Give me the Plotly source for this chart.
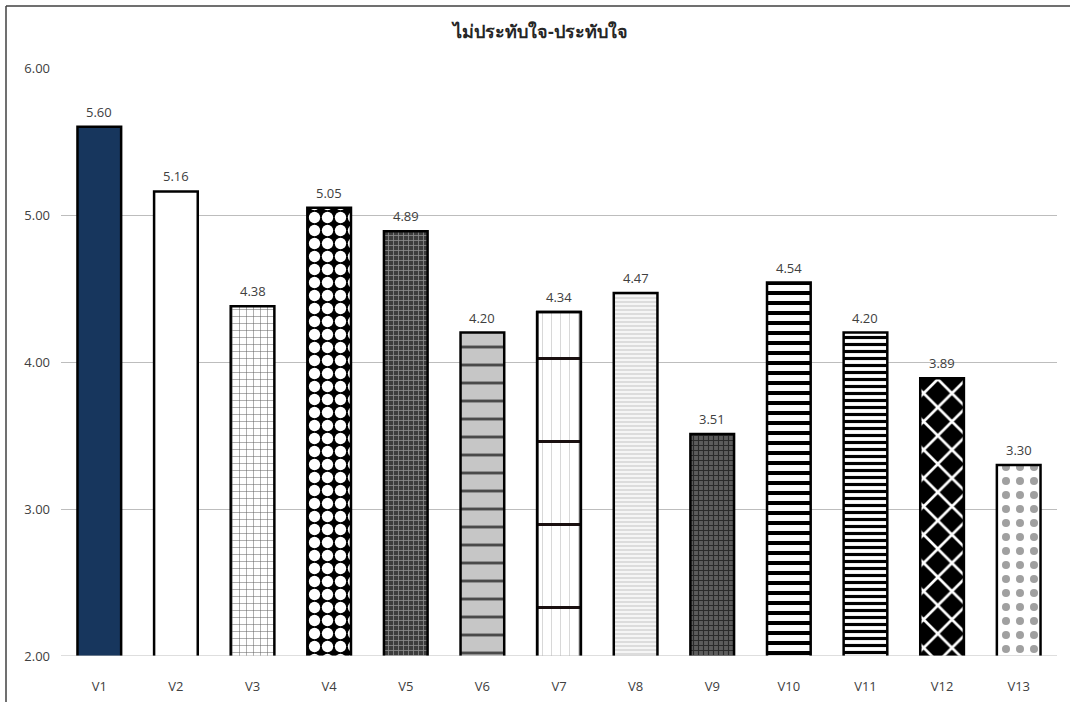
import plotly.graph_objects as go

# Scores per item
categories = ["V1", "V2", "V3", "V4", "V5", "V6", "V7", "V8", "V9", "V10", "V11", "V12", "V13"]
scores = [5.60, 5.16, 4.38, 5.05, 4.89, 4.20, 4.34, 4.47, 3.51, 4.54, 4.20, 3.89, 3.30]
title_text = "ไม่ประทับใจ-ประทับใจ"
y_ticks = [2, 3, 4, 5, 6]

# Fill style of each bar: background colour + overlaid pattern
fill_colors = ["#17365d", "white", "white", "black", "#3c3c3c", "#c6c6c6", "white",
               "#f5f5f5", "#5c5c5c", "white", "white", "black", "white"]
pattern_shapes = ["", "", "+", ".", "+", "-", "|", "-", "+", "-", "-", "x", "."]
pattern_fg = ["black", "black", "#606060", "white", "#8c8c8c", "#4a4a4a", "#d4d4d4",
              "#d6d6d6", "#2a2a2a", "black", "black", "white", "#a0a0a0"]
pattern_size = [8, 8, 7, 13, 5, 18, 9, 4, 5, 10, 7, 20, 14]
pattern_solidity = [0.3, 0.3, 0.14, 0.6, 0.3, 0.16, 0.1, 0.4, 0.4, 0.4, 0.45, 0.25, 0.26]

# Heavy horizontal rules drawn over the V7 bar
rule_category = "V7"

fig = go.Figure()
for i, (cat, val) in enumerate(zip(categories, scores)):
    fig.add_trace(go.Bar(
        x=[cat], y=[val],
        marker=dict(
            color=fill_colors[i],
            line=dict(color="black", width=2.5),
            pattern=dict(shape=pattern_shapes[i], fgcolor=pattern_fg[i], fgopacity=1,
                         size=pattern_size[i], solidity=pattern_solidity[i],
                         fillmode="overlay"),
        ),
        width=0.57, showlegend=False, name=cat,
    ))
    if cat == rule_category:
        fig.add_trace(go.Bar(
            x=[cat], y=[val],
            marker=dict(
                color="rgba(0,0,0,0)",
                line=dict(color="black", width=2.5),
                pattern=dict(shape="-", fgcolor="#1a1010", fgopacity=1, size=83,
                             solidity=0.036, fillmode="overlay"),
            ),
            width=0.57, showlegend=False, hoverinfo="skip",
        ))

# Value labels above each bar
value_labels = [
    dict(x=cat, y=val, text=f"{val:.2f}", showarrow=False, xref="x", yref="y",
         yanchor="bottom", yshift=4, font=dict(size=13, color="#404040"))
    for cat, val in zip(categories, scores)
]

fig.update_layout(
    barmode="overlay",
    width=1070, height=702,
    margin=dict(l=61, r=13, t=68, b=46),
    paper_bgcolor="white", plot_bgcolor="white",
    font=dict(family="Open Sans, Noto Sans, sans-serif", color="#404040", size=13),
    title=dict(text=f"<b>{title_text}</b>", x=0.505, xanchor="center", y=0.955,
               yanchor="middle", font=dict(size=18, color="#262626")),
    xaxis=dict(showline=False, ticks="", tickfont=dict(size=13, color="#404040"),
               ticklabelstandoff=21, categoryorder="array", categoryarray=categories,
               automargin=False),
    yaxis=dict(range=[2, 6], tickvals=y_ticks, tickformat=".2f",
               gridcolor="#bdbdbd", gridwidth=1, zeroline=False, showline=False,
               tickfont=dict(size=13, color="#404040"), ticklabelstandoff=10,
               automargin=False),
    annotations=value_labels,
    shapes=[
        # outer chart frame (top and left edges)
        dict(type="line", xref="paper", yref="paper",
             x0=-55 / 996, x1=1.02, y0=650 / 588, y1=650 / 588,
             line=dict(color="#404040", width=1.5)),
        dict(type="line", xref="paper", yref="paper",
             x0=-55 / 996, x1=-55 / 996, y0=-0.1, y1=650 / 588,
             line=dict(color="#404040", width=1.5)),
        # baseline at 2.00
        dict(type="line", xref="paper", yref="y", x0=0, x1=1, y0=2, y1=2,
             line=dict(color="#bdbdbd", width=1)),
    ],
)

fig.write_html("out.html")
